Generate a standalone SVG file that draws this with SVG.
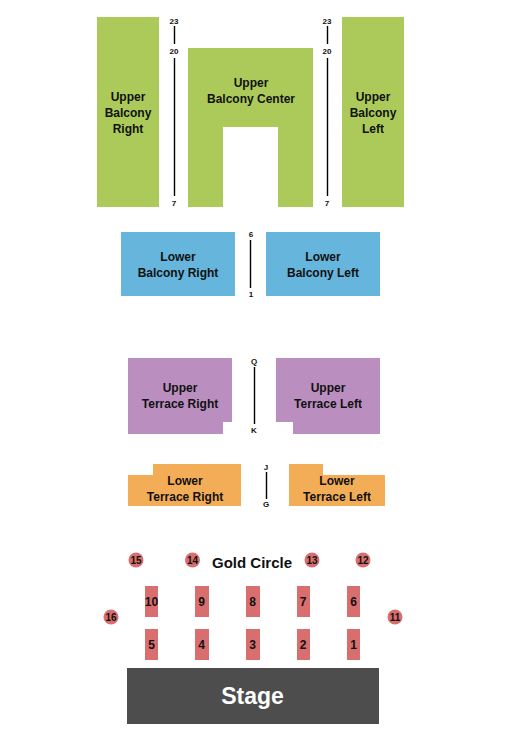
<svg xmlns="http://www.w3.org/2000/svg" width="525" height="737" viewBox="0 0 525 737">
<style>
text{font-family:"Liberation Sans",Arial,sans-serif;font-weight:700;fill:#111;text-anchor:middle;opacity:.999}
.l{font-size:12px}
.r{font-size:8px}
.n{font-size:12px}
.c{font-size:10px}
.ub{fill:#abca5a}
.lb{fill:#65b5dc}
.ut{fill:#ba8fc0}
.lt{fill:#f4ad57}
.g{fill:#d86e6e}
line{stroke:#000;stroke-width:1.4}
</style>
<rect width="525" height="737" fill="#fff"/>
<g id="connectors">
<line x1="174.5" y1="26" x2="174.5" y2="44"/>
<line x1="174.5" y1="58" x2="174.5" y2="196"/>
<line x1="327.5" y1="26" x2="327.5" y2="44"/>
<line x1="327.5" y1="58" x2="327.5" y2="196"/>
<line x1="250.5" y1="240" x2="250.5" y2="288"/>
<line x1="254.5" y1="367" x2="254.5" y2="424"/>
<line x1="266.5" y1="472" x2="266.5" y2="499"/>
</g>
<g id="row-labels">
<text class="r" x="174" y="24">23</text><text class="r" x="174" y="54">20</text><text class="r" x="174" y="206">7</text>
<text class="r" x="327" y="24">23</text><text class="r" x="327" y="54">20</text><text class="r" x="327" y="206">7</text>
<text class="r" x="251" y="237">6</text><text class="r" x="251" y="297">1</text>
<text class="r" x="254" y="364">Q</text><text class="r" x="254" y="433">K</text>
<text class="r" x="266" y="470">J</text><text class="r" x="266" y="507">G</text>
</g>
<g id="upper-balcony-right"><rect class="ub" x="97" y="17" width="62" height="190"/><text class="l" x="128" y="101">Upper</text><text class="l" x="128" y="117">Balcony</text><text class="l" x="128" y="133">Right</text></g>
<g id="upper-balcony-center"><path class="ub" d="M188 48H313V207H278V127H223V207H188Z"/><text class="l" x="251" y="87">Upper</text><text class="l" x="251" y="103">Balcony Center</text></g>
<g id="upper-balcony-left"><rect class="ub" x="342" y="17" width="62" height="190"/><text class="l" x="373" y="101">Upper</text><text class="l" x="373" y="117">Balcony</text><text class="l" x="373" y="133">Left</text></g>
<g id="lower-balcony-right"><rect class="lb" x="121" y="232" width="114" height="64"/><text class="l" x="178" y="261">Lower</text><text class="l" x="178" y="277">Balcony Right</text></g>
<g id="lower-balcony-left"><rect class="lb" x="266" y="232" width="114" height="64"/><text class="l" x="323" y="261">Lower</text><text class="l" x="323" y="277">Balcony Left</text></g>
<g id="upper-terrace-right"><path class="ut" d="M128 358H232V422H223V434H128Z"/><text class="l" x="180" y="392">Upper</text><text class="l" x="180" y="408">Terrace Right</text></g>
<g id="upper-terrace-left"><path class="ut" d="M276 358H380V434H293V422H276Z"/><text class="l" x="328" y="392">Upper</text><text class="l" x="328" y="408">Terrace Left</text></g>
<g id="lower-terrace-right"><path class="lt" d="M153 464H241V506H128V475H153Z"/><text class="l" x="185" y="485">Lower</text><text class="l" x="185" y="501">Terrace Right</text></g>
<g id="lower-terrace-left"><path class="lt" d="M289 464H323V475H385V506H289Z"/><text class="l" x="337" y="485">Lower</text><text class="l" x="337" y="501">Terrace Left</text></g>
<g id="gold-circle-label"><text x="252" y="568" font-size="15px">Gold Circle</text></g>
<g id="t15"><circle class="g" cx="136" cy="560" r="7.5"/><text class="c" x="136" y="563.5">15</text></g>
<g id="t14"><circle class="g" cx="192.500" cy="560" r="7.5"/><text class="c" x="192.500" y="563.500">14</text></g>
<g id="t13"><circle class="g" cx="312" cy="560" r="7.5"/><text class="c" x="312" y="563.500">13</text></g>
<g id="t12"><circle class="g" cx="363" cy="560" r="7.5"/><text class="c" x="363" y="563.500">12</text></g>
<g id="t16"><circle class="g" cx="111" cy="617" r="7.5"/><text class="c" x="111" y="620.500">16</text></g>
<g id="t11"><circle class="g" cx="395" cy="617" r="7.5"/><text class="c" x="395" y="620.500">11</text></g>
<g id="t10"><rect class="g" x="145" y="586" width="13" height="31"/><text class="n" x="151.500" y="606">10</text></g>
<g id="t9"><rect class="g" x="195" y="586" width="14" height="31"/><text class="n" x="201.500" y="606">9</text></g>
<g id="t8"><rect class="g" x="246" y="586" width="14" height="31"/><text class="n" x="252.500" y="606">8</text></g>
<g id="t7"><rect class="g" x="297" y="586" width="13" height="31"/><text class="n" x="303" y="606">7</text></g>
<g id="t6"><rect class="g" x="347" y="586" width="13" height="31"/><text class="n" x="353.500" y="606">6</text></g>
<g id="t5"><rect class="g" x="145" y="629" width="13" height="31"/><text class="n" x="151.500" y="649">5</text></g>
<g id="t4"><rect class="g" x="195" y="629" width="14" height="31"/><text class="n" x="201.500" y="649">4</text></g>
<g id="t3"><rect class="g" x="246" y="629" width="14" height="31"/><text class="n" x="252.500" y="649">3</text></g>
<g id="t2"><rect class="g" x="297" y="629" width="13" height="31"/><text class="n" x="303" y="649">2</text></g>
<g id="t1"><rect class="g" x="347" y="629" width="13" height="31"/><text class="n" x="353.500" y="649">1</text></g>
<g id="stage"><rect x="127" y="668" width="252" height="56" fill="#4d4d4d"/><text x="252.500" y="704" font-size="23px" style="fill:#fff">Stage</text></g>
</svg>
